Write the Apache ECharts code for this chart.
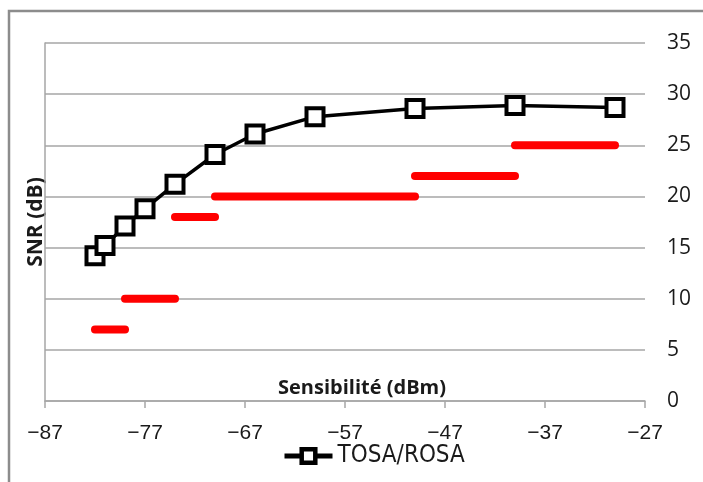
<!DOCTYPE html>
<html>
<head>
<meta charset="utf-8">
<script src="https://cdn.jsdelivr.net/npm/echarts@6/dist/echarts.min.js"></script>
<style>html,body{margin:0;padding:0;background:#fff;}#c{width:703px;height:482px;}</style>
</head>
<body>
<div id="c"></div>
<script>
// ---- data ----
const X_MIN = -87;
const X_MAX = -27;
const xTickLabels = ['\u221287', '\u221277', '\u221267', '\u221257', '\u221247', '\u221237', '\u221227'];
const yTickLabels = ['0', '5', '10', '15', '20', '25', '30', '35'];
const seriesName = 'TOSA/ROSA';
const sensX = [-82, -81, -79, -77, -74, -70, -66, -60, -50, -40, -30];
const snrY  = [14.2, 15.2, 17.1, 18.8, 21.2, 24.1, 26.1, 27.8, 28.6, 28.9, 28.7];
const segStart = [-82, -79, -74, -70, -50, -40];
const segEnd   = [-79, -74, -70, -50, -40, -30];
const segLevel = [7, 10, 18, 20, 22, 25];

// ---- chart ----
const chart = echarts.init(document.getElementById('c'), null, {renderer: 'canvas'});
const shift = v => v - X_MIN;

const segSeries = segLevel.map((lv, i) => ({
  type: 'line',
  name: 'seg' + i,
  data: [[shift(segStart[i]), lv], [shift(segEnd[i]), lv]],
  symbol: 'none',
  silent: true,
  animation: false,
  lineStyle: {color: '#ff0000', width: 8, cap: 'round'},
  z: 2
}));

const option = {
  animation: false,
  backgroundColor: '#ffffff',
  grid: {left: 45, right: 58, top: 43, bottom: 81, containLabel: false},
  xAxis: {
    type: 'value',
    min: 0,
    max: shift(X_MAX),
    interval: 10,
    axisLine: {show: true, lineStyle: {color: '#a6a6a6', width: 1.5}},
    axisTick: {show: true, length: 7, lineStyle: {color: '#a6a6a6', width: 1.5}},
    splitLine: {show: false},
    axisLabel: {
      margin: 22,
      color: '#1a1a1a',
      fontFamily: 'Liberation Sans',
      fontSize: 21,
      formatter: v => xTickLabels[Math.round(v / 10)]
    }
  },
  yAxis: {
    type: 'value',
    position: 'right',
    min: 0,
    max: 35,
    interval: 5,
    axisLine: {show: true, lineStyle: {color: '#a6a6a6', width: 1.5}},
    axisTick: {show: false},
    splitLine: {show: true, lineStyle: {color: '#a6a6a6', width: 1.5}},
    axisLabel: {
      margin: 22,
      color: '#1a1a1a',
      fontFamily: 'Open Sans',
      fontSize: 21,
      formatter: v => yTickLabels[Math.round(v / 5)]
    }
  },
  legend: {
    data: [seriesName],
    bottom: 9,
    left: 277,
    itemWidth: 48,
    itemHeight: 17,
    itemGap: 8,
    lineStyle: {width: 5},
    itemStyle: {borderWidth: 4.5},
    textStyle: {fontFamily: '"Liberation Sans Narrow", "DejaVu Sans Condensed", "Roboto Condensed", sans-serif', fontSize: 24, color: '#1a1a1a'}
  },
  graphic: [
    {type: 'rect', shape: {x: 9, y: 11, width: 1000, height: 1000}, style: {fill: 'none', stroke: '#8c8c8c', lineWidth: 2.5}, silent: true, z: 0},
    {type: 'text', x: 36, y: 222, rotation: Math.PI / 2, style: {text: 'SNR (dB)', font: 'bold 21px "Open Sans"', fill: '#1a1a1a', align: 'center', verticalAlign: 'middle'}},
    {type: 'text', x: 362, y: 388, style: {text: 'Sensibilit\u00e9 (dBm)', font: 'bold 20px "Open Sans"', fill: '#1a1a1a', align: 'center', verticalAlign: 'middle'}}
  ],
  series: [
    ...segSeries,
    {
      type: 'line',
      name: seriesName,
      data: sensX.map((x, i) => [shift(x), snrY[i]]),
      symbol: 'rect',
      symbolSize: 17,
      showAllSymbol: true,
      lineStyle: {color: '#000000', width: 3.5},
      itemStyle: {color: '#ffffff', borderColor: '#000000', borderWidth: 4},
      z: 5
    }
  ]
};
chart.setOption(option);
</script>
</body>
</html>
